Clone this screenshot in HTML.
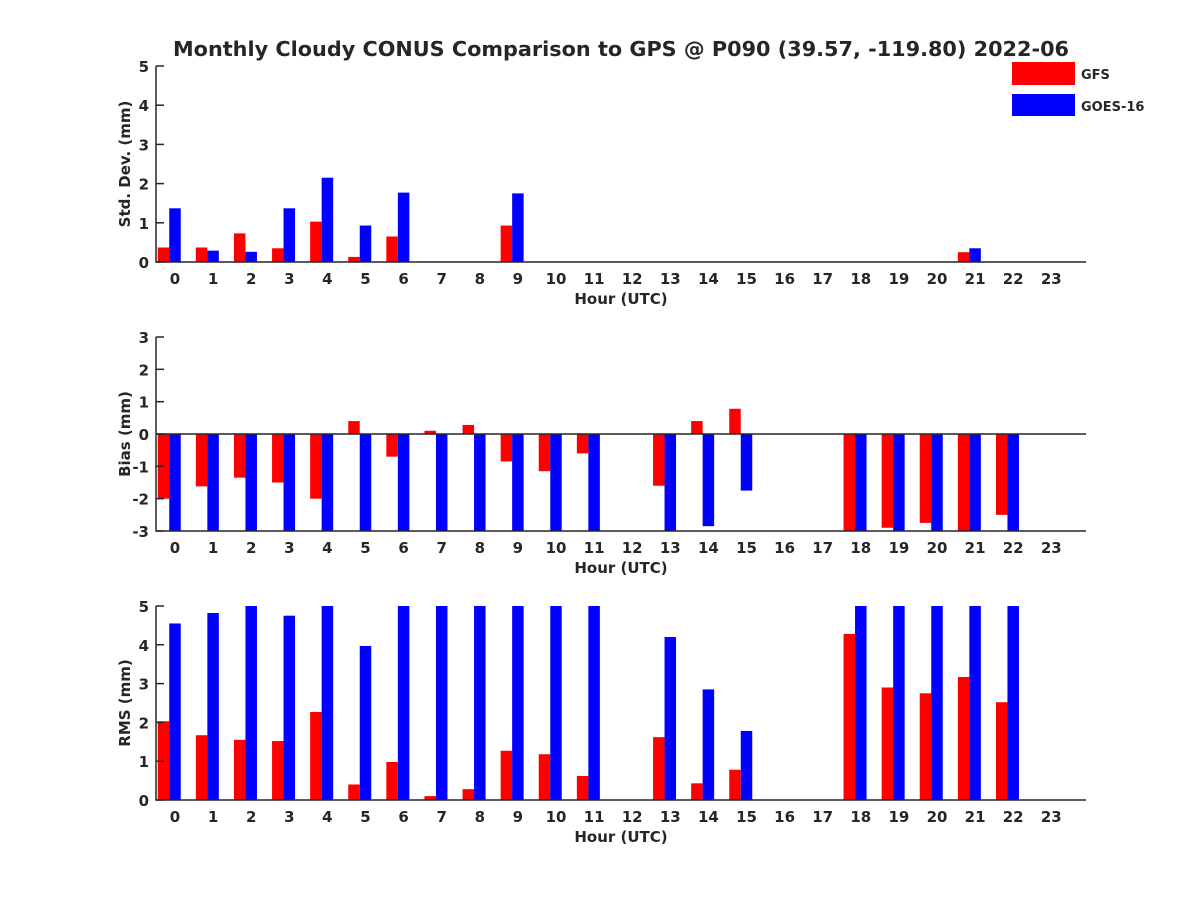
<!DOCTYPE html>
<html><head><meta charset="utf-8"><style>
html,body{margin:0;padding:0;background:#fff;}
svg text{font-family:"DejaVu Sans","Liberation Sans",sans-serif;font-weight:bold;fill:#262626;}
</style></head><body>
<svg id="chart" width="1200" height="900" xmlns="http://www.w3.org/2000/svg">
<defs>
<clipPath id="c0"><rect x="156" y="66" width="930" height="196"/></clipPath>
<clipPath id="c1"><rect x="156" y="337" width="930" height="194"/></clipPath>
<clipPath id="c2"><rect x="156" y="606" width="930" height="194"/></clipPath>
</defs>
<text x="621" y="56" font-size="20" text-anchor="middle" textLength="896" lengthAdjust="spacingAndGlyphs">Monthly Cloudy CONUS Comparison to GPS @ P090 (39.57, -119.80) 2022-06</text>
<g id="legend">
<rect x="1012" y="62" width="63" height="23" fill="#ff0000"/>
<text x="1081" y="79" font-size="13">GFS</text>
<rect x="1012" y="94" width="63" height="22" fill="#0000ff"/>
<text x="1081" y="111" font-size="13">GOES-16</text>
</g>
</svg>
<script>
const hours = Array.from({length:24},(_,i)=>i);
const N = NaN;
const stdGFS  = [0.37,0.37,0.73,0.35,1.03,0.13,0.65,N,N,0.93,N,N,N,N,N,N,N,N,N,N,N,0.25,N,N];
const stdGOES = [1.37,0.29,0.26,1.37,2.15,0.93,1.77,N,N,1.75,N,N,N,N,N,N,N,N,N,N,N,0.35,N,N];
const biasGFS  = [-2.0,-1.62,-1.35,-1.5,-2.0,0.4,-0.7,0.1,0.28,-0.85,-1.15,-0.6,N,-1.6,0.4,0.78,N,N,-4.3,-2.9,-2.75,-3.15,-2.5,N];
const biasGOES = [-4.5,-4.8,-5.2,-4.75,-5.3,-3.97,-5.5,-5.5,-5.5,-5.5,-5.5,-5.5,N,-4.2,-2.85,-1.75,N,N,-5.5,-5.5,-5.5,-5.5,-5.5,N];
const rmsGFS  = [2.03,1.67,1.55,1.52,2.27,0.4,0.98,0.1,0.28,1.27,1.18,0.62,N,1.62,0.43,0.78,N,N,4.28,2.9,2.75,3.17,2.52,N];
const rmsGOES = [4.55,4.82,5.2,4.75,5.3,3.97,5.5,5.5,5.5,5.5,5.5,5.5,N,4.2,2.85,1.78,N,N,5.5,5.5,5.5,5.5,5.5,N];
const stdTicks=[0,1,2,3,4,5], biasTicks=[-3,-2,-1,0,1,2,3], rmsTicks=[0,1,2,3,4,5];

const svg=document.getElementById('chart');
const NS='http://www.w3.org/2000/svg';
const X0=156,X1=1086;
function xs(h){return 175+h*38.1;}
function mk(tag,attrs){const e=document.createElementNS(NS,tag);for(const k in attrs)e.setAttribute(k,attrs[k]);svg.appendChild(e);return e;}

const panels=[
 {name:'std',top:66,bot:262,min:0,max:5,ticks:stdTicks,g:stdGFS,o:stdGOES,ylab:'Std. Dev. (mm)',clip:'c0',zero:false},
 {name:'bias',top:337,bot:531,min:-3,max:3,ticks:biasTicks,g:biasGFS,o:biasGOES,ylab:'Bias (mm)',clip:'c1',zero:true},
 {name:'rms',top:606,bot:800,min:0,max:5,ticks:rmsTicks,g:rmsGFS,o:rmsGOES,ylab:'RMS (mm)',clip:'c2',zero:false}
];
panels.forEach(p=>{
  const ys=v=>p.bot-(v-p.min)/(p.max-p.min)*(p.bot-p.top);
  const bw=11.5;
  const draw=(arr,col,off,sname)=>{
    arr.forEach((v,i)=>{
      if(isNaN(v))return;
      const y0=ys(0),y1=ys(v);
      const r=mk('rect',{x:xs(hours[i])+off-bw/2,y:Math.min(y0,y1),width:bw,height:Math.abs(y1-y0),fill:col,'clip-path':'url(#'+p.clip+')'});
      
      
    });
  };
  draw(p.g,'#ff0000',-11.5,'gfs');
  draw(p.o,'#0000ff',0,'goes');
  if(p.zero){const z=mk('line',{x1:X0,x2:X1,y1:ys(0),y2:ys(0),stroke:'#262626','stroke-width':1.5});
    
    }
  const ax=mk('path',{d:`M${X0} ${p.top}V${p.bot}H${X1}`,fill:'none',stroke:'#262626','stroke-width':1.5});
  
  
  p.ticks.forEach(t=>{
    const y=ys(t);
    const tl=mk('line',{x1:X0,x2:X0+8,y1:y,y2:y,stroke:'#262626','stroke-width':1.5});
    
    
    const tx=mk('text',{x:X0-7,y:y+6,'font-size':15,'text-anchor':'end'});
    tx.textContent=t;
    
    
  });
  hours.forEach(h=>{
    const tx=mk('text',{x:xs(h),y:p.bot+22,'font-size':15,'text-anchor':'middle'});
    tx.textContent=h;
    
    
  });
  const xl=mk('text',{x:621,y:p.bot+42,'font-size':15,'text-anchor':'middle'});
  xl.textContent='Hour (UTC)';
  
  
  const yc=(p.top+p.bot)/2;
  const yl=mk('text',{x:0,y:0,'font-size':15,'text-anchor':'middle',transform:`translate(130 ${yc}) rotate(-90)`});
  yl.textContent=p.ylab;
  
  
});
</script>
</body></html>
